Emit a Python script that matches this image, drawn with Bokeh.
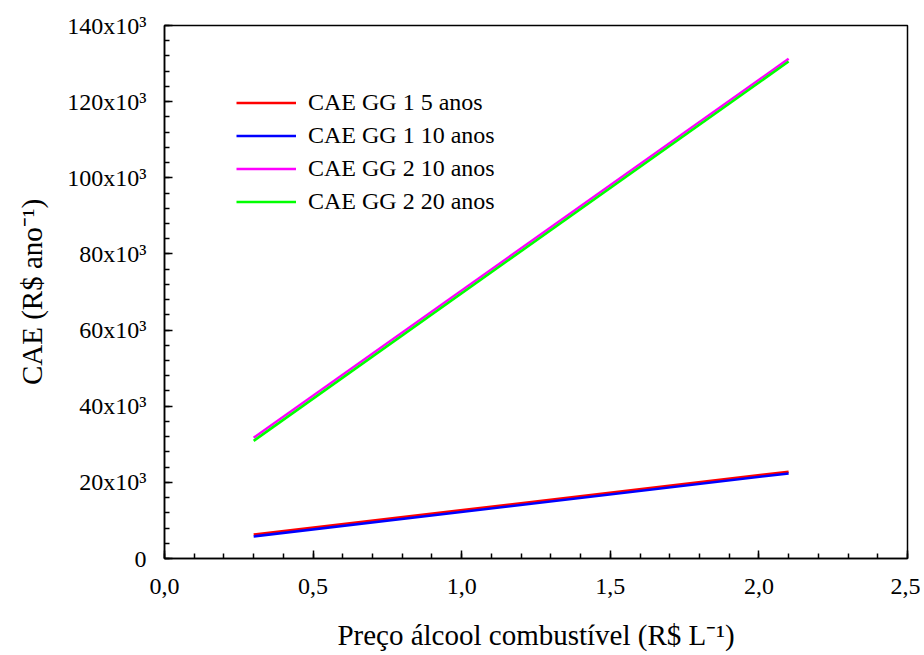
from bokeh.plotting import figure
from bokeh.models import (Legend, LegendItem, CustomJSTickFormatter, FixedTicker, Range1d)
from bokeh.embed import file_html
from bokeh.resources import INLINE

# Data
price = [0.3, 2.1]
cae_gg1_5 = [6300, 22800]
cae_gg1_10 = [5800, 22350]
cae_gg2_10 = [31700, 131250]
cae_gg2_20 = [30900, 130550]

series_names = ["CAE GG 1 5 anos", "CAE GG 1 10 anos", "CAE GG 2 10 anos", "CAE GG 2 20 anos"]
series_vals = [cae_gg1_5, cae_gg1_10, cae_gg2_10, cae_gg2_20]
series_colors = ["#ff0000", "#0000ff", "#ff00ff", "#00ff00"]

x_ticks = [0.0, 0.5, 1.0, 1.5, 2.0, 2.5]
y_ticks = [0, 20000, 40000, 60000, 80000, 100000, 120000, 140000]

FONT = "Liberation Serif"

p = figure(width=920, height=655, output_backend="svg", toolbar_location=None,
           x_range=Range1d(0, 2.5), y_range=Range1d(0, 140000),
           min_border_left=164, min_border_right=13, min_border_top=25, min_border_bottom=97)
p.xgrid.visible = False
p.ygrid.visible = False
p.outline_line_color = "black"
p.outline_line_width = 1.5
p.background_fill_color = "white"
p.border_fill_color = "white"

items = []
for name, vals, col in zip(series_names, series_vals, series_colors):
    r = p.line(price, vals, line_color=col, line_width=2.5)
    items.append(LegendItem(label=name, renderers=[r]))

for ax in (p.xaxis[0], p.yaxis[0]):
    ax.axis_line_color = "black"
    ax.axis_line_width = 1.5
    ax.major_tick_in = 8
    ax.major_tick_out = 0
    ax.minor_tick_in = 5
    ax.minor_tick_out = 0
    ax.major_tick_line_color = "black"
    ax.minor_tick_line_color = "black"
    ax.major_tick_line_width = 1.5
    ax.minor_tick_line_width = 1.5
    ax.major_label_text_font = FONT
    ax.major_label_text_font_size = "24px"
    ax.major_label_text_color = "black"
    ax.axis_label_text_font = FONT
    ax.axis_label_text_font_size = "29px"
    ax.axis_label_text_font_style = "normal"
    ax.axis_label_text_color = "black"

p.xaxis.ticker = FixedTicker(ticks=x_ticks, minor_ticks=[i / 10 for i in range(26)])
p.yaxis.ticker = FixedTicker(ticks=y_ticks, minor_ticks=list(range(0, 140001, 4000)))
p.xaxis.formatter = CustomJSTickFormatter(code="return tick.toFixed(1).replace('.', ',');")
p.yaxis.formatter = CustomJSTickFormatter(code="return tick == 0 ? '0' : (Math.round(tick/1000)) + 'x10\u00b3';")
p.xaxis.major_label_standoff = 20
p.yaxis.major_label_standoff = 18
p.xaxis.axis_label = "Preço álcool combustível (R$ L\u207b\u00b9)"
p.yaxis.axis_label = "CAE (R$ ano\u207b\u00b9)"
p.xaxis.axis_label_standoff = 22
p.yaxis.axis_label_standoff = 16

legend = Legend(items=items, location=(72, 340), border_line_color=None,
                background_fill_alpha=0, padding=0, margin=0, spacing=0,
                label_height=33, glyph_height=33, glyph_width=60, label_standoff=12,
                label_text_font=FONT, label_text_font_size="24px", label_text_color="black")
p.add_layout(legend)

open("out.html", "w").write(file_html(p, INLINE))
